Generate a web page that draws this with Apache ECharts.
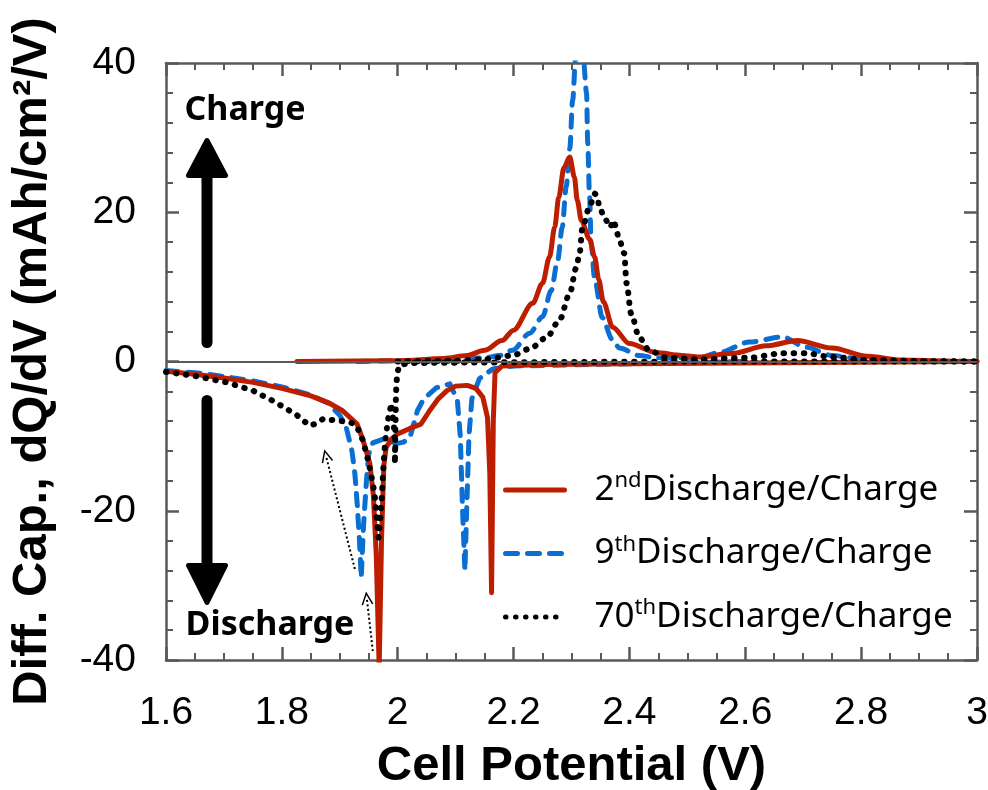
<!DOCTYPE html>
<html>
<head>
<meta charset="utf-8">
<title>Diff. Cap. dQ/dV</title>
<script src="https://cdn.jsdelivr.net/npm/echarts@6/dist/echarts.min.js"></script>
<style>
    html, body { margin: 0; padding: 0; background: #fff; }
    #chart { width: 988px; height: 790px; }
</style>
</head>
<body>
<div id="chart"></div>
<script>
    // values: [cell potential (V), dQ/dV]
    const cycle2Discharge = [
        [1.60, -1.3], [1.65, -1.7], [1.70, -2.2], [1.75, -2.8], [1.80, -3.6], [1.85, -4.6],
        [1.88, -5.5], [1.905, -6.6], [1.93, -8.4], [1.94, -10.5], [1.952, -13.7], [1.958, -18],
        [1.963, -26], [1.968, -41], [1.972, -24], [1.976, -14], [1.98, -11.5], [1.99, -10.3],
        [2.0, -9.7], [2.02, -9], [2.04, -8.4], [2.055, -6.6], [2.07, -5], [2.085, -3.9],
        [2.1, -3.3], [2.12, -3.2], [2.135, -3.6], [2.147, -4.8], [2.155, -7.5], [2.159, -15],
        [2.162, -31], [2.165, -8], [2.168, -1.5], [2.18, -0.6], [2.25, -0.4], [2.4, -0.3],
        [2.6, -0.2], [2.8, -0.1], [3.0, 0]
    ]
    const cycle2Charge = [
        [1.826, 0], [2.0, 0.1], [2.08, 0.4], [2.12, 0.8], [2.15, 1.5], [2.18, 2.8], [2.2, 4.2],
        [2.233, 7.8], [2.25, 10.5], [2.262, 14], [2.271, 18], [2.278, 22], [2.287, 26], [2.297, 27.4],
        [2.305, 24.7], [2.31, 21.6], [2.317, 18.9], [2.331, 16.4], [2.34, 14], [2.347, 11],
        [2.355, 8], [2.371, 4.6], [2.4, 2.4], [2.446, 1.2], [2.49, 0.8], [2.52, 0.6], [2.578, 1.1],
        [2.636, 2.1], [2.69, 2.8], [2.75, 1.8], [2.81, 0.7], [2.87, 0.2], [2.95, 0.05], [3.0, 0]
    ]
    const cycle9Discharge = [
        [1.60, -1.2], [1.65, -1.5], [1.70, -2.0], [1.75, -2.6], [1.80, -3.4], [1.85, -4.5],
        [1.88, -5.6], [1.90, -7.2], [1.911, -8.8], [1.921, -12], [1.926, -15], [1.93, -19],
        [1.934, -24], [1.937, -29], [1.941, -22], [1.946, -16], [1.95, -12.4], [1.957, -10.9],
        [1.975, -10.4], [1.998, -11], [2.01, -10.8], [2.021, -10.2], [2.034, -6.6], [2.045, -5],
        [2.067, -3.5], [2.09, -3.0], [2.103, -5.2], [2.108, -10], [2.112, -20], [2.116, -28],
        [2.119, -20], [2.123, -10], [2.128, -5], [2.141, -2.3], [2.164, -1], [2.2, -0.6],
        [2.4, -0.3], [2.6, 0]
    ]
    const cycle9Charge = [
        [1.93, 0], [2.1, 0.2], [2.15, 0.5], [2.176, 0.8], [2.198, 1.5], [2.228, 3.8], [2.25, 6],
        [2.265, 9.5], [2.276, 13.5], [2.284, 18], [2.291, 23.5], [2.297, 28.5], [2.302, 35],
        [2.307, 40.5], [2.312, 41], [2.32, 41], [2.326, 36], [2.328, 29.3], [2.331, 22.5],
        [2.334, 15.8], [2.34, 11], [2.353, 5.9], [2.37, 3], [2.383, 1.8], [2.417, 0.8],
        [2.446, 0.5], [2.52, 0.5], [2.555, 1.2], [2.607, 2.6], [2.664, 3.3], [2.705, 1.9],
        [2.75, 0.8], [2.81, 0.2], [2.9, 0.05], [3.0, 0]
    ]
    const cycle70Discharge = [
        [1.60, -1.4], [1.647, -1.9], [1.705, -2.8], [1.75, -3.9], [1.79, -5.5], [1.826, -7.2],
        [1.848, -8.6], [1.86, -8.3], [1.871, -7.7], [1.894, -7.9], [1.917, -8.1], [1.929, -8.6],
        [1.94, -10.6], [1.949, -13.3], [1.955, -15.5], [1.96, -17.7], [1.963, -20.4], [1.967, -23.6],
        [1.972, -19], [1.975, -14.6], [1.978, -11], [1.983, -7.9], [1.989, -5.6], [1.993, -8.3],
        [1.996, -11], [1.995, -13.7], [1.996, -9], [1.997, -4.3], [1.999, -1.6], [2.003, -0.5],
        [2.02, -0.2], [2.2, -0.1], [2.5, 0], [3.0, 0]
    ]
    const cycle70Charge = [
        [2.0, 0], [2.1, 0.1], [2.15, 0.3], [2.198, 0.8], [2.228, 1.7], [2.257, 3.2], [2.279, 5.5],
        [2.297, 9.1], [2.308, 12.5], [2.314, 14.5], [2.319, 18], [2.331, 20.7], [2.34, 22.5],
        [2.345, 22], [2.348, 20.7], [2.357, 19.3], [2.366, 18], [2.374, 18.9], [2.377, 17.6],
        [2.383, 16.2], [2.391, 14.5], [2.395, 10.5], [2.403, 6.4], [2.417, 3.2], [2.434, 1.5],
        [2.464, 0.5], [2.52, 0.3], [2.607, 0.5], [2.664, 1.1], [2.705, 1.1], [2.75, 0.6],
        [2.81, 0.2], [2.9, 0.05], [3.0, 0]
    ]
    // thin dotted arrows pointing from the 2nd-cycle peak to the later ones
    const shiftArrows = [
        [[1.957, -38.8], [1.9466, -31.7]],
        [[1.926, -27.8], [1.876, -12.6]]
    ]
    const seriesNames = ['2ndDischarge/Charge', '9thDischarge/Charge', '70thDischarge/Charge']
    const xTicks = { min: 1.6, max: 3.0, step: 0.2 }
    const yTicks = { min: -40, max: 40, step: 20 }

    const axisGray = '#595959'
    const colors = { c2: '#BE1E00', c9: '#0A6FD2', c70: '#000000' }

    let chartInstance

    function baseAxis(ticks, minorSplit){
        return {
            type: 'value',
            min: ticks.min,
            max: ticks.max,
            interval: ticks.step,
            axisLine: { show: true, onZero: false, lineStyle: { color: axisGray, width: 2.5 } },
            axisTick: { show: true, inside: true, length: 13, lineStyle: { color: axisGray, width: 2.5 } },
            minorTick: { show: true, splitNumber: minorSplit, length: 7, lineStyle: { color: axisGray, width: 2 } },
            splitLine: { show: false },
            minorSplitLine: { show: false }
        }
    }

    function lineSeries(name, data, style, extra){
        return Object.assign({
            name: name,
            type: 'line',
            data: data,
            symbol: 'none',
            smooth: false,
            clip: true,
            lineStyle: style,
            itemStyle: { color: style.color }
        }, extra || {})
    }

    function initChart(){
        chartInstance = echarts.init(document.getElementById('chart'), null, { renderer: 'canvas' })

        const tickFont = { fontFamily: 'Liberation Sans', fontSize: 39, color: '#000' }
        const titleFont = { fontFamily: 'Liberation Sans', fontSize: 49, fontWeight: 'bold', color: '#000' }

        const xBottom = Object.assign(baseAxis(xTicks, 4), {
            position: 'bottom',
            axisLabel: Object.assign({ margin: 34 }, tickFont),
            name: 'Cell Potential (V)',
            nameLocation: 'middle',
            nameGap: 82,
            nameTextStyle: titleFont
        })
        const xTop = Object.assign(baseAxis(xTicks, 4), { position: 'top', axisLabel: { show: false } })
        const yLeft = Object.assign(baseAxis(yTicks, 5), {
            position: 'left',
            axisLabel: Object.assign({ margin: 30, padding: [4, 0, 0, 0] }, tickFont),
            name: 'Diff. Cap., dQ/dV (mAh/cm²/V)',
            nameLocation: 'middle',
            nameGap: 109,
            nameTextStyle: titleFont
        })
        const yRight = Object.assign(baseAxis(yTicks, 5), { position: 'right', axisLabel: { show: false } })

        const solidRed = { color: colors.c2, width: 5, type: 'solid', cap: 'round', join: 'round' }
        const dashBlue = { color: colors.c9, width: 5, type: [12, 10], cap: 'round', join: 'round' }
        const dotBlack = { color: colors.c70, width: 6, type: [0.5, 9.5], cap: 'round', join: 'round' }
        const smoothed = { smooth: 0.3, smoothMonotone: 'x' }

        const chevron = 'path://M0,12 L6,0 L12,12 L10.4,12 L6,3.2 L1.6,12 Z'

        const option = {
            animation: false,
            backgroundColor: '#fff',
            grid: { left: 166, right: 11, top: 63, bottom: 130, containLabel: false, outerBoundsMode: 'none' },
            xAxis: [xBottom, xTop],
            yAxis: [yLeft, yRight],
            legend: {
                data: seriesNames,
                orient: 'vertical',
                left: 503,
                top: 470,
                padding: 0,
                itemWidth: 59,
                itemHeight: 20,
                itemGap: 26,
                itemStyle: { opacity: 0 },
                lineStyle: { width: 5, cap: 'round' },
                formatter: (name) => {
                    const m = name.match(/^(\d+)(st|nd|rd|th)(.*)$/)
                    return '{n|' + m[1] + '}{s|' + m[2] + '}{t|' + m[3] + '}'
                },
                textStyle: {
                    rich: {
                        n: { fontFamily: 'Noto Sans', fontSize: 35, color: '#000', lineHeight: 40, padding: [0, 0, 0, 25] },
                        s: { fontFamily: 'Noto Sans', fontSize: 22, color: '#000', lineHeight: 26, verticalAlign: 'top' },
                        t: { fontFamily: 'Noto Sans', fontSize: 35, color: '#000', lineHeight: 40 }
                    }
                }
            },
            series: [
                lineSeries(seriesNames[1], cycle9Discharge, dashBlue, {
                    markLine: {
                        silent: true,
                        symbol: 'none',
                        label: { show: false },
                        lineStyle: { color: axisGray, width: 2, type: 'solid' },
                        data: [{ yAxis: 0 }]
                    }
                }),
                lineSeries(seriesNames[1], cycle9Charge, dashBlue, smoothed),
                lineSeries(seriesNames[0], cycle2Discharge, solidRed),
                lineSeries(seriesNames[0], cycle2Charge, solidRed, smoothed),
                lineSeries(seriesNames[2], cycle70Discharge, dotBlack),
                lineSeries(seriesNames[2], cycle70Charge, dotBlack, Object.assign({
                    markLine: {
                        silent: true,
                        symbol: ['none', chevron],
                        symbolSize: [12, 13],
                        label: { show: false },
                        lineStyle: { color: '#000', width: 2, type: [2, 2.5] },
                        data: shiftArrows.map(a => [{ coord: a[0] }, { coord: a[1] }])
                    }
                }, smoothed))
            ],
            graphic: [
                // Charge arrow (up)
                { type: 'line', shape: { x1: 207, y1: 342.5, x2: 207, y2: 172 }, style: { stroke: '#000', lineWidth: 11, lineCap: 'round' } },
                { type: 'polygon', shape: { points: [[188.5, 175.5], [207, 140.5], [225.5, 175.5]] }, style: { fill: '#000', stroke: '#000', lineWidth: 5, lineJoin: 'round' } },
                { type: 'text', x: 245, y: 110, style: { text: 'Charge', fill: '#000', font: 'bold 34px "Noto Sans"', align: 'center', verticalAlign: 'middle' } },
                // Discharge arrow (down)
                { type: 'line', shape: { x1: 207, y1: 400.5, x2: 207, y2: 568 }, style: { stroke: '#000', lineWidth: 11, lineCap: 'round' } },
                { type: 'polygon', shape: { points: [[188.5, 565.5], [207, 602.5], [225.5, 565.5]] }, style: { fill: '#000', stroke: '#000', lineWidth: 5, lineJoin: 'round' } },
                { type: 'text', x: 270, y: 625, style: { text: 'Discharge', fill: '#000', font: 'bold 34px "Noto Sans"', align: 'center', verticalAlign: 'middle' } }
            ]
        }
        chartInstance.setOption(option)
    }

    initChart()
</script>
</body>
</html>
